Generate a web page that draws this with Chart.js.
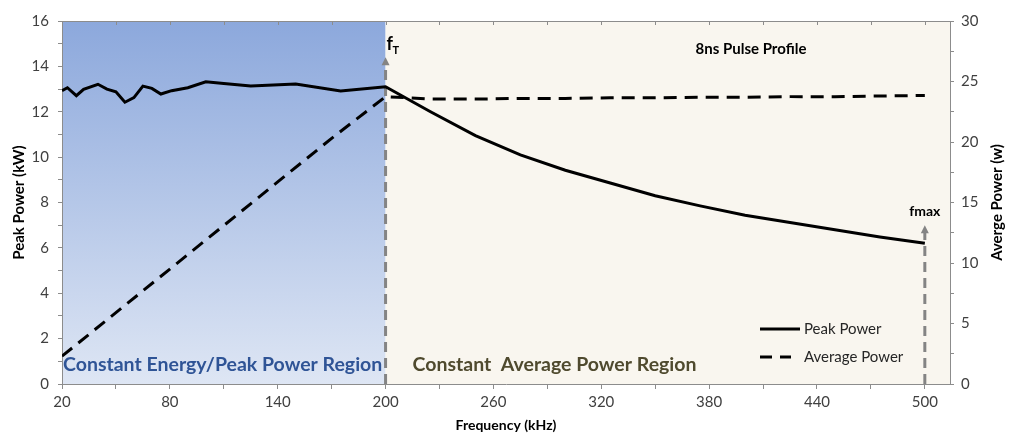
<!DOCTYPE html>
<html>
<head>
<meta charset="utf-8">
<script src="https://cdn.jsdelivr.net/npm/chart.js@4.4.0/dist/chart.umd.min.js"></script>
<style>
  html, body { margin: 0; padding: 0; background: #fff; }
  #wrap { width: 1013px; height: 435px; }
</style>
</head>
<body>
<div id="wrap"><canvas id="chart" width="1013" height="435"></canvas></div>
<script>
const FONT = 'Lato, "Open Sans", sans-serif';

// --- data ---
const peakFreq = [20, 23, 28, 32, 40, 45, 50, 55, 60, 65, 70, 75, 81, 90, 100, 110, 125, 150, 175, 200,
                  225, 250, 275, 300, 325, 350, 375, 400, 425, 450, 475, 500];
const peakPower = [12.93, 13.06, 12.71, 12.99, 13.21, 13.0, 12.88, 12.42, 12.62, 13.13, 13.03, 12.78, 12.93, 13.06, 13.32, 13.25, 13.13, 13.22, 12.91, 13.1,
                   12.0, 10.95, 10.1, 9.42, 8.86, 8.3, 7.85, 7.44, 7.12, 6.8, 6.48, 6.2];

const avgFreq = [20, 50, 80, 110, 140, 170, 200, 225, 250, 275, 300, 325, 350, 375, 400, 425, 450, 475, 500];
const avgPower = [2.3, 5.9, 9.5, 13.1, 16.7, 20.3, 23.75, 23.55, 23.55, 23.6, 23.6, 23.65, 23.65, 23.7, 23.7, 23.75, 23.75, 23.8, 23.85];

const xTickValues = [20, 50, 80, 110, 140, 170, 200, 230, 260, 290, 320, 350, 380, 410, 440, 470, 500];
const xTickLabels = ['20', '', '80', '', '140', '', '200', '', '260', '', '320', '', '380', '', '440', '', '500'];

const fT = 200, fMax = 500;         // region boundary / last frequency
const fTArrowTop = 14.4;            // kW, tip of the f_T arrow
const fMaxArrowTop = 7.0;           // kW, tip of the fmax arrow

const axisGray = '#8c8c8c';

// backgrounds for the two regions + top border with inner tick marks
const regionBg = {
    id: 'regionBg',
    beforeDraw(chart) {
        const { ctx, chartArea: a, scales: { x } } = chart;
        const xb = x.getPixelForValue(fT);
        ctx.save();
        const g = ctx.createLinearGradient(0, a.top, 0, a.bottom);
        g.addColorStop(0, '#8ca8dc');
        g.addColorStop(1, '#dee6f4');
        ctx.fillStyle = g;
        ctx.fillRect(a.left, a.top, xb - a.left, a.bottom - a.top);
        ctx.fillStyle = '#f9f6ef';
        ctx.fillRect(xb, a.top, a.right - xb, a.bottom - a.top);

        ctx.strokeStyle = axisGray;
        ctx.lineWidth = 1;
        ctx.beginPath();
        ctx.moveTo(a.left, a.top + 0.5);
        ctx.lineTo(a.right, a.top + 0.5);
        xTickValues.forEach(v => {
            const px = Math.round(x.getPixelForValue(v)) + 0.5;
            ctx.moveTo(px, a.top);
            ctx.lineTo(px, a.top + 4);
        });
        ctx.stroke();
        ctx.restore();
    }
};

function drawArrow(ctx, px, yBottom, yTip) {
    ctx.save();
    ctx.strokeStyle = '#848484';
    ctx.fillStyle = '#848484';
    ctx.lineWidth = 3;
    ctx.setLineDash([10, 6]);
    ctx.beginPath();
    ctx.moveTo(px, yBottom);
    ctx.lineTo(px, yTip + 6);
    ctx.stroke();
    ctx.setLineDash([]);
    ctx.beginPath();
    ctx.moveTo(px - 4, yTip + 8);
    ctx.lineTo(px, yTip);
    ctx.lineTo(px + 4, yTip + 8);
    ctx.closePath();
    ctx.fill();
    ctx.restore();
}

// frequency markers drawn under the data lines
const markers = {
    id: 'markers',
    beforeDatasetsDraw(chart) {
        const { ctx, chartArea: a, scales: { x, y } } = chart;
        const x1 = x.getPixelForValue(fT);
        const x2 = x.getPixelForValue(fMax);
        drawArrow(ctx, x1, a.bottom, y.getPixelForValue(fTArrowTop));
        drawArrow(ctx, x2, a.bottom, y.getPixelForValue(fMaxArrowTop));

        ctx.save();
        ctx.fillStyle = '#000';
        ctx.textBaseline = 'alphabetic';
        ctx.textAlign = 'left';
        ctx.font = 'bold 18px ' + FONT;
        ctx.fillText('f', x1 + 1, 50);
        ctx.font = 'bold 11px ' + FONT;
        ctx.fillText('T', x1 + 7, 54);
        ctx.textAlign = 'center';
        ctx.font = 'bold 14px ' + FONT;
        ctx.fillText('fmax', x2, y.getPixelForValue(fMaxArrowTop) - 9);
        ctx.restore();
    }
};

// texts, legend and right axis title
const annotations = {
    id: 'annotations',
    afterDraw(chart) {
        const { ctx, chartArea: a, scales: { x } } = chart;
        const xb = x.getPixelForValue(fT);
        ctx.save();
        ctx.textBaseline = 'middle';

        ctx.textAlign = 'center';
        ctx.fillStyle = '#000';
        ctx.font = 'bold 15px ' + FONT;
        ctx.fillText('8ns Pulse Profile', 751, 49);

        ctx.textAlign = 'left';
        ctx.font = 'bold 19.5px ' + FONT;
        ctx.fillStyle = '#2f5496';
        ctx.fillText('Constant Energy/Peak Power Region', a.left + 1, a.bottom - 19);
        ctx.fillStyle = '#4f4a2e';
        ctx.fillText('Constant  Average Power Region', xb + 27, a.bottom - 19);

        // legend
        const lx = a.right - 190;
        ctx.strokeStyle = '#000';
        ctx.lineWidth = 3;
        ctx.beginPath();
        ctx.moveTo(lx, 329);
        ctx.lineTo(lx + 40, 329);
        ctx.stroke();
        ctx.setLineDash([12, 8]);
        ctx.beginPath();
        ctx.moveTo(lx, 357);
        ctx.lineTo(lx + 31, 357);
        ctx.stroke();
        ctx.setLineDash([]);
        ctx.fillStyle = '#262626';
        ctx.font = '15px ' + FONT;
        ctx.fillText('Peak Power', lx + 44, 329);
        ctx.fillText('Average Power', lx + 44, 357);

        // right axis title, reads bottom to top
        ctx.translate(997, (a.top + a.bottom) / 2);
        ctx.rotate(-Math.PI / 2);
        ctx.textAlign = 'center';
        ctx.fillStyle = '#000';
        ctx.font = 'bold 15px ' + FONT;
        ctx.fillText('Averge Power (w)', 0, 0);
        ctx.restore();
    }
};

const tickFont = { family: FONT, size: 15 };

new Chart(document.getElementById('chart'), {
    type: 'line',
    data: {
        datasets: [
            {
                label: 'Peak Power',
                data: peakFreq.map((f, i) => ({ x: f, y: peakPower[i] })),
                borderColor: '#000',
                borderWidth: 3,
                pointRadius: 0,
                tension: 0,
                yAxisID: 'y'
            },
            {
                label: 'Average Power',
                data: avgFreq.map((f, i) => ({ x: f, y: avgPower[i] })),
                borderColor: '#000',
                borderWidth: 3,
                borderDash: [13, 8],
                pointRadius: 0,
                tension: 0,
                yAxisID: 'y1'
            }
        ]
    },
    options: {
        responsive: false,
        animation: false,
        devicePixelRatio: 1,
        layout: { padding: { top: 21, left: 0, right: 0, bottom: 0 } },
        plugins: { legend: { display: false }, tooltip: { enabled: false } },
        scales: {
            x: {
                type: 'linear',
                min: 20,
                max: 514,
                afterBuildTicks: s => { s.ticks = xTickValues.map(v => ({ value: v })); },
                afterFit: s => { s.height = 51; },
                ticks: {
                    autoSkip: false,
                    maxRotation: 0,
                    padding: 4,
                    color: '#404040',
                    font: tickFont,
                    callback: (v) => xTickLabels[xTickValues.indexOf(v)] ?? ''
                },
                grid: { drawOnChartArea: false, tickLength: 5, color: axisGray },
                border: { color: axisGray },
                title: {
                    display: true,
                    text: 'Frequency (kHz)',
                    color: '#000',
                    font: { family: FONT, size: 14, weight: 'bold' },
                    padding: { top: 0, bottom: 1 }
                }
            },
            y: {
                position: 'left',
                min: 0,
                max: 16,
                afterFit: s => { s.width = 62; },
                ticks: {
                    stepSize: 1,
                    autoSkip: false,
                    padding: 9,
                    color: '#404040',
                    font: tickFont,
                    callback: v => (v % 2 === 0 ? v : '')
                },
                grid: { drawOnChartArea: false, tickLength: 4, color: axisGray },
                border: { color: axisGray },
                title: {
                    display: true,
                    text: 'Peak Power (kW)',
                    color: '#000',
                    font: { family: FONT, size: 15, weight: 'bold' },
                    padding: { top: 10, bottom: 0 }
                }
            },
            y1: {
                position: 'right',
                min: 0,
                max: 30,
                afterFit: s => { s.width = 63; },
                ticks: {
                    stepSize: 2.5,
                    autoSkip: false,
                    padding: 7,
                    color: '#404040',
                    font: tickFont,
                    callback: v => (v % 5 === 0 ? v : '')
                },
                grid: { drawOnChartArea: false, tickLength: 4, color: axisGray },
                border: { color: axisGray }
            }
        }
    },
    plugins: [regionBg, markers, annotations]
});
</script>
</body>
</html>
